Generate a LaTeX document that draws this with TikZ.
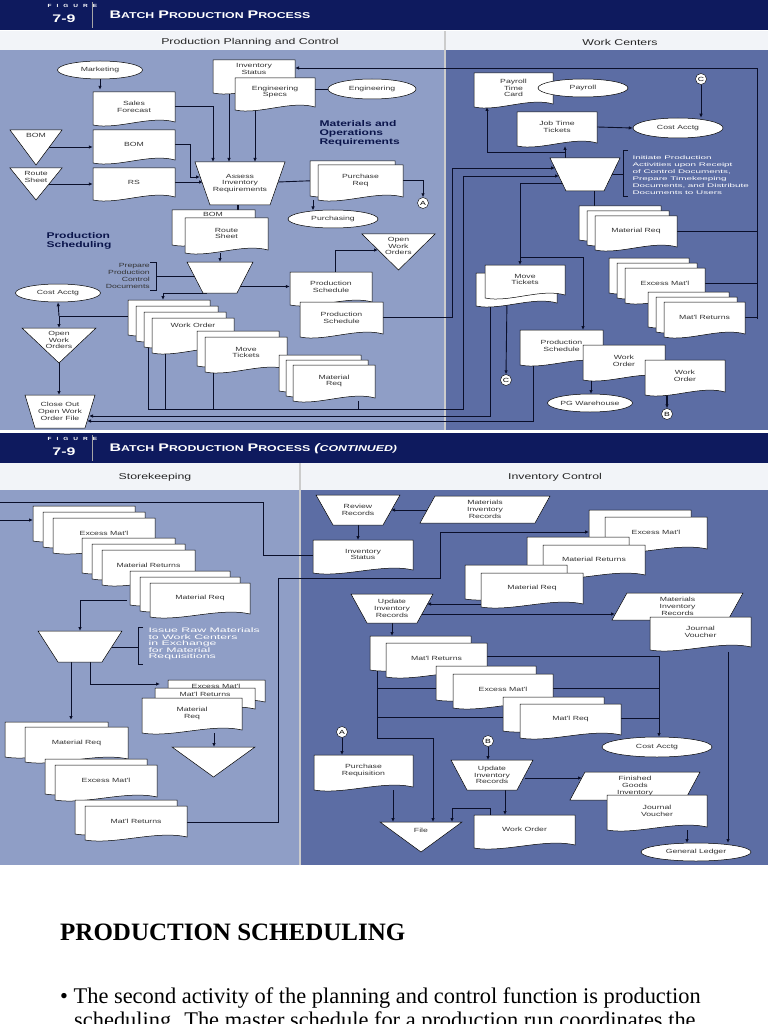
\documentclass[tikz,border=0pt]{standalone}
\usepackage{fontspec}
\setmainfont{Liberation Serif}
\newfontfamily\dsans[FakeStretch=1.45]{Liberation Sans}
\newfontfamily\wsans[FakeStretch=1.9]{Liberation Sans}
\usetikzlibrary{shapes.geometric,arrows.meta}
\definecolor{navy}{HTML}{0E1A5E}
\definecolor{lpan}{HTML}{8F9EC6}
\definecolor{rpan}{HTML}{5C6DA4}
\definecolor{strip}{HTML}{F2F4F8}
\definecolor{lc}{HTML}{0A0F2A}
\newcommand\dfont{\dsans\fontsize{6}{6.8}\selectfont}
\newcommand\hsc[2]{{\fontsize{11}{11}\selectfont #1}{\fontsize{8.5}{9}\selectfont #2}}
\newcommand\docshape[4]{\filldraw[docst] (#1,#2) -- (#3,#2) -- (#3,{#4-3}) .. controls ({#1+((#3)-(#1))*0.7},{#4-10}) and ({#1+((#3)-(#1))*0.3},{#4+5}) .. (#1,#4) -- cycle;}
\newcommand\mydoc[6]{\docshape{#2}{#3}{#4}{#5}\node[lbl,minimum width={((#4)-(#2))*1pt},minimum height={((#5)-(#3))*1pt}] (#1) at ({((#2)+(#4))/2},{((#3)+(#5))/2-2}) {#6};}
\newcommand\mystack[9]{\foreach \k in {#6,...,1}{\docshape{#2-\k*#7}{#3-\k*#8}{#4-\k*#7}{#5-\k*#8}}\mydoc{#1}{#2}{#3}{#4}{#5}{#9}}
\newcommand\mytrap[7]{\filldraw[docst] ({#2-#4},#3)--({#2+#4},#3)--({#2+#6},#5)--({#2-#6},#5)--cycle;\node[lbl] (#1) at (#2,{(#3+#5)/2}) {#7};}
\newcommand\mytri[6]{\filldraw[docst] (#2,#3)--(#4,#3)--({(#2+#4)/2},#5)--cycle;\node[lbl,anchor=north] (#1) at ({(#2+#4)/2},{#3+3}) {#6};}
\newcommand\mypar[6]{\filldraw[docst] ({#2+15},#3)--(#4,#3)--({#4-15},#5)--(#2,#5)--cycle;\node[lbl] (#1) at ({(#2+#4)/2},{(#3+#5)/2}) {#6};}
\tikzset{
 docst/.style={fill=white,draw=black,line width=0.5pt},
 lbl/.style={font=\dfont,align=center,inner sep=0pt,text=black!80},
 ell/.style={ellipse,draw=black,fill=white,font=\dfont,inner sep=0pt,line width=0.5pt,text=black!80},
 circ/.style={circle,draw=black,fill=white,font=\dfont,inner sep=0.5pt,minimum size=11pt},
 ar/.style={-{Latex[length=4pt,width=3.5pt]},line width=0.9pt,draw=lc},
 ln/.style={line width=0.9pt,draw=lc},
 sect/.style={font=\dsans\fontsize{8.5}{9}\selectfont,text=black!85},
 big/.style={font=\dsans\bfseries\fontsize{8.3}{9}\selectfont,align=left,text=navy!80!black},
 wide/.style={font=\wsans\fontsize{5.2}{7}\selectfont,align=left,text=white},
 bra/.style={line width=0.6pt,draw=lc}
}
\pgfdeclarelayer{bg}\pgfdeclarelayer{edges}
\pgfsetlayers{bg,edges,main}
\begin{document}
\begin{tikzpicture}[x=1pt,y=-1pt]
\useasboundingbox (0,0) rectangle (768,1024);
\clip (0,0) rectangle (768,1024);
\begin{pgfonlayer}{bg}
\fill[white] (0,0) rectangle (768,1024);
\foreach \o in {0,433}{
 \fill[navy] (0,\o) rectangle (768,{\o+30});
 \draw[gray!70,line width=1pt] (92,{\o+2}) -- (92,{\o+28});
 \node[anchor=west,text=white,font=\dsans\bfseries\fontsize{4.5}{5}\selectfont] at (44,{\o+6}) {F\hspace{5pt}I\hspace{5pt}G\hspace{5pt}U\hspace{5pt}R\hspace{5pt}E};
 \node[text=white,font=\dsans\bfseries\fontsize{11}{11}\selectfont] at (64,{\o+19}) {7-9};
}
\node[anchor=west,text=white,font=\dsans\bfseries] at (106,15) {\hsc{B}{ATCH} \hsc{P}{RODUCTION} \hsc{P}{ROCESS}};
\node[anchor=west,text=white,font=\dsans\bfseries] at (106,449) {\hsc{B}{ATCH} \hsc{P}{RODUCTION} \hsc{P}{ROCESS} \itshape\hsc{(}{CONTINUED)}};
\fill[strip] (0,31) rectangle (768,50);
\draw[gray,line width=0.6pt] (0,50) -- (768,50);
\fill[lpan] (0,50) rectangle (445,430);
\fill[rpan] (445,50) rectangle (768,430);
\draw[gray!40,line width=1.2pt] (445,31) -- (445,430);
\fill[strip] (0,463) rectangle (768,490);
\draw[gray,line width=0.6pt] (0,490) -- (768,490);
\fill[lpan] (0,490) rectangle (300,865);
\fill[rpan] (300,490) rectangle (768,865);
\draw[gray!40,line width=1.2pt] (300,463) -- (300,865);
\end{pgfonlayer}
\node[sect] at (250,42) {Production Planning and Control};
\node[sect] at (620,42) {Work Centers};
\node[sect] at (155,477) {Storekeeping};
\node[sect] at (555,477) {Inventory Control};

% ===== top left =====
\node[ell,minimum width=85pt,minimum height=18pt] (mkt) at (100,70) {Marketing};
\mydoc{sf}{93}{92}{175}{125}{Sales\\Forecast}
\mytri{tbom}{10}{130}{62}{165}{BOM}
\mydoc{bom}{93}{130}{175}{163}{BOM}
\mytri{trs}{10}{168}{62}{200}{Route\\Sheet}
\mydoc{rs}{93}{168}{175}{200}{RS}
\docshape{213}{60}{295}{93}\node[lbl] (invs) at (254,69) {Inventory\\Status};
\mydoc{engs}{235}{78}{315}{110}{Engineering\\Specs}
\node[ell,minimum width=88pt,minimum height=20pt] (eng) at (372,89) {Engineering};
\node[big,anchor=west] (mor) at (316,133) {Materials and\\Operations\\Requirements};
\mytrap{assess}{240}{162}{45}{205}{30}{Assess\\Inventory\\Requirements}
\mystack{preq}{318}{165}{403}{200}{1}{8}{4}{Purchase\\Req}
\node[circ] (ca) at (423,203) {A};
\node[ell,minimum width=90pt,minimum height=18pt] (purch) at (333,219) {Purchasing};
\docshape{172}{210}{255}{245}\node[lbl] at (213,214) {BOM};
\mydoc{rsh}{185}{218}{268}{253}{Route\\Sheet}
\node[big,anchor=west] (pslab) at (43,241) {Production\\Scheduling};
\node[lbl,align=right,anchor=east] (preptxt) at (150,276) {Prepare\\Production\\Control\\Documents};
\mytrap{prep}{220}{262}{33}{293}{17}{}
\mytri{owo1}{362}{234}{435}{270}{Open\\Work\\Orders}
\mydoc{ps1}{290}{272}{372}{305}{Production\\Schedule}
\mydoc{ps2}{300}{302}{383}{337}{Production\\Schedule}
\node[ell,minimum width=85pt,minimum height=18pt] (cost1) at (58,293) {Cost Acctg};
\foreach \k in {3,2,1}{\docshape{152-\k*8}{318-\k*6}{234-\k*8}{353-\k*6}}
\docshape{152}{318}{234}{353}\node[lbl] (wo) at (193,325) {Work Order};
\mystack{mt}{205}{337}{287}{372}{1}{8}{6}{Move\\Tickets}
\mystack{mr}{293}{365}{375}{401}{2}{7}{5}{Material\\Req}
\mytri{owo2}{22}{328}{96}{363}{Open\\Work\\Orders}
\mytrap{close}{60}{395}{35}{428}{25}{Close Out\\Open Work\\Order File}

% ===== top right =====
\mydoc{ptc}{474}{73}{553}{107}{Payroll\\Time\\Card}
\node[ell,minimum width=90pt,minimum height=18pt] (pay) at (583,88) {Payroll};
\node[circ] (c1) at (701,79) {C};
\mydoc{jtt}{517}{112}{597}{146}{Job Time\\Tickets}
\node[ell,minimum width=90pt,minimum height=20pt] (cost2) at (678,128) {Cost Acctg};
\mytrap{init}{585}{158}{35}{191}{19}{}
\node[wide,anchor=north west] (inittxt) at (629,152) {Initiate Production\\Activities upon Receipt\\of Control Documents,\\Prepare Timekeeping\\Documents, and Distribute\\Documents to Users};
\mystack{mreq}{595}{216}{677}{250}{2}{8}{5}{Material Req}
\mystack{exc}{625}{268}{705}{303}{2}{8}{5}{Excess Mat'l}
\mystack{mret}{664}{302}{745}{337}{2}{8}{5}{Mat'l Returns}
\docshape{476}{273}{557}{306}
\mydoc{mtr}{485}{265}{565}{298}{Move\\Tickets}
\node[circ] (c2) at (506,380) {C};
\mydoc{psr}{520}{330}{603}{365}{Production\\Schedule}
\mydoc{wor1}{583}{345}{665}{380}{Work\\Order}
\node[ell,minimum width=85pt,minimum height=18pt] (pgw) at (590,403) {PG Warehouse};
\mydoc{wor2}{645}{360}{725}{395}{Work\\Order}
\node[circ] (b1) at (667,414) {B};

% ===== bottom left =====
\mystack{bexc}{53}{518}{155}{553}{2}{10}{6}{Excess Mat'l}
\mystack{bmret}{102}{550}{195}{585}{2}{10}{6}{Material Returns}
\mystack{bmreq}{150}{583}{250}{617}{2}{10}{6}{Material Req}
\mytrap{issue}{80}{631}{42}{662}{22}{}
\node[wide,font=\wsans\fontsize{6.5}{6.6}\selectfont,anchor=west] (isstxt) at (145,644) {Issue Raw Materials\\to Work Centers\\in Exchange\\for Material\\Requisitions};
\docshape{168}{680}{265}{705}\node[lbl] at (216,686) {Excess Mat'l};
\docshape{155}{688}{255}{712}\node[lbl] at (205,694) {Mat'l Returns};
\mydoc{smreq}{142}{698}{242}{733}{Material\\Req}
\mytri{btri}{172}{747}{255}{777}{}
\mystack{lmreq}{25}{727}{128}{762}{1}{20}{5}{Material Req}
\mystack{lexc}{55}{765}{157}{800}{1}{10}{6}{Excess Mat'l}
\mystack{lmret}{85}{806}{187}{840}{1}{10}{6}{Mat'l Returns}

% ===== bottom right =====
\mytrap{rev}{358}{495}{42}{525}{25}{Review\\Records}
\mypar{mir1}{420}{496}{550}{523}{Materials\\Inventory\\Records}
\mydoc{bis}{313}{540}{413}{573}{Inventory\\Status}
\mystack{rexc}{605}{517}{707}{552}{1}{16}{7}{Excess Mat'l}
\mystack{rmret}{543}{545}{645}{578}{1}{16}{8}{Material Returns}
\mystack{rmreq}{481}{573}{583}{607}{1}{16}{8}{Material Req}
\mytrap{upd1}{392}{594}{41}{623}{25}{Update\\Inventory\\Records}
\mypar{mir2}{612}{593}{743}{620}{Materials\\Inventory\\Records}
\mydoc{jv1}{650}{617}{751}{650}{Journal\\Voucher}
\mystack{rmr2}{386}{643}{487}{677}{1}{16}{7}{Mat'l Returns}
\mystack{rex2}{453}{674}{553}{708}{1}{17}{8}{Excess Mat'l}
\mystack{rmq2}{520}{704}{621}{738}{1}{17}{7}{Mat'l Req}
\node[ell,minimum width=110pt,minimum height=20pt] (rcost) at (657,747) {Cost Acctg};
\node[circ] (a2) at (342,732) {A};
\mydoc{preq2}{314}{755}{413}{790}{Purchase\\Requisition}
\node[circ] (b2) at (488,741) {B};
\mytrap{upd2}{492}{760}{41}{790}{25}{Update\\Inventory\\Records}
\mypar{fgi}{570}{772}{700}{800}{Finished\\Goods\\Inventory}
\mydoc{jv2}{607}{795}{707}{830}{Journal\\Voucher}
\filldraw[docst] (380,822)--(462,822)--(421,852)--cycle;
\node[lbl] (file) at (421,830) {File};
\mydoc{bwo}{474}{815}{575}{848}{Work Order}
\node[ell,minimum width=110pt,minimum height=18pt] (gl) at (696,852) {General Ledger};

% ===== connectors =====
\begin{pgfonlayer}{edges}
\draw[ar] (mkt.south) -- (mkt.south|-sf.north);
\draw[ar] (sf.east) -| (213,162);
\draw[ar] (49,147) -- (bom.west|-0,147);
\draw[ar] (49,184) -- (rs.west|-0,184);
\draw[ar] (bom.east) -- (190,144.5) -- (190,177) -- (200,177);
\draw[ar] (rs.east) -- (203,182);
\draw[ar] (229,93) -- (229,162);
\draw[ar] (255,110) -- (255,162);
\draw[ln] (eng.west) -- (315,89);
\draw[ar] (757,319) -- (757,68) -- (295,68);
\draw[ln] (mreq.east) -- (757,231);
\draw[ln] (exc.east) -- (757,283.5);
\draw[ln] (mret.east) -- (757,317.5);
\draw[ar] (278,182) -- (preq.west);
\draw[ar] (preq.east) -| (ca.north);
\draw[ar] (313,200) -- (313,210.5);
\draw[line width=2pt,draw=lc] (238,205) -- (238,213);
\draw[ar] (220,253) -- (220,262);
\draw[ar] (240,286.5) -- (ps1.west);
\draw[ar] (335,272) -- (335,250) -- (378,250);
\draw[bra] (150,262) -- (156,262) -- (156,290) -- (150,290);
\draw[ln] (156,276) -- (195,276);
\draw[ar] (207,293) -- (163,293) -- (163,300);
\draw[ln] (128,316) -- (59,316);
\draw[ar] (59,316) -- (cost1.south);
\draw[ar] (59,316) -- (59,328);
\draw[ar] (59,363) -- (59,395);
\draw[ln] (148,330) -- (148,409);
\draw[ln] (165,353) -- (165,409);
\draw[ln] (213,372) -- (213,409);
\draw[ln] (358,401) -- (358,409);
\draw[ar] (148,409) -- (463,409) -- (463,176) -- (559,176);
\draw[ar] (490,306) -- (490,416) -- (89,416);
\draw[ar] (533,365) -- (533,421) -- (87,421);
\draw[ar] (ps2.east) -- (452,317.5) -- (452,168) -- (555,168);
\draw[ar] (562,183) -- (520,183) -- (520,265);
\draw[ar] (520,257) -- (583,257) -- (583,330);
\draw[ar] (507,298) -- (c2.north);
\draw[ar] (591,380) -- (591,394);
\draw[ar,line width=1.5pt] (667,395) -- (b1.north);
\draw[ar] (565,158) -- (565,146);
\draw[ar] (565,152) -- (487,152) -- (487,107);
\draw[ln] (594,191) -- (594,206);
\draw[ar] (jtt.east) -- (cost2.west);
\draw[ar] (ptc.east) -- (pay.west);
\draw[ar] (c1.south) -- (c1.south|-cost2.north);
\draw[bra] (628,150) -- (623,150) -- (623,196) -- (628,196);
\draw[ln] (603,174) -- (623,174);
\draw[ar] (0,520) -- (33,520);
\draw[ln] (0,502) -- (263,502) -- (263,555) -- (313,555);
\draw[ar] (127,600) -- (80,600) -- (80,631);
\draw[bra] (143,627) -- (138,627) -- (138,664) -- (143,664);
\draw[ln] (112,647) -- (138,647);
\draw[ar] (71,662) -- (71,720);
\draw[ar] (90,662) -- (90,684) -- (160,684);
\draw[ar] (214,733) -- (214,747);
\draw[ar] (187,822) -- (278,822) -- (278,578) -- (440,578) -- (440,532) -- (589,532);
\draw[ar] (428,510) -- (391,510);
\draw[ar] (358,525) -- (358,540);
\draw[ar] (481,604) -- (427,604);
\draw[ar] (421,614) -- (615,614);
\draw[ar] (392,623) -- (392,636);
\draw[ar] (377,670) -- (377,738) -- (433,738) -- (433,822);
\draw[ln] (377,688) -- (436,688);
\draw[ln] (377,717) -- (503,717);
\draw[ar] (487,656) -- (659,656) -- (659,737);
\draw[ln] (553,688) -- (659,688);
\draw[ln] (621,718) -- (659,718);
\draw[ar] (728,652) -- (728,843);
\draw[ar] (a2.south) -- (342,755);
\draw[ar] (393,790) -- (393,822);
\draw[ar] (b2.south) -- (488,760);
\draw[ar] (525,778) -- (582,778);
\draw[ar] (505,790) -- (505,815);
\draw[ar] (490,815) -- (490,808) -- (452,808) -- (452,822);
\draw[ar] (687,830) -- (687,843);
\end{pgfonlayer}

\node[anchor=base west,font=\bfseries\fontsize{25}{27}\selectfont,inner sep=0pt] (h) at (60,940) {PRODUCTION SCHEDULING};
\node[anchor=base west,font=\fontsize{22.4}{24}\selectfont,inner sep=0pt] (b) at (60,1003) {\textbullet\ The second activity of the planning and control function is production};
\node[anchor=base west,font=\fontsize{22.4}{24}\selectfont,inner sep=0pt] (b2t) at (74,1027) {scheduling. The master schedule for a production run coordinates the};
\end{tikzpicture}
\end{document}
